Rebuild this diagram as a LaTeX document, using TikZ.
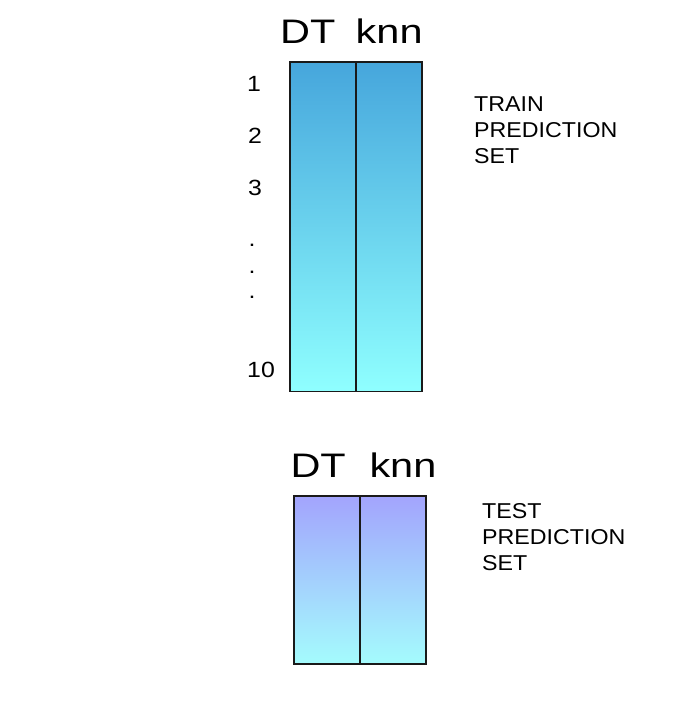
\documentclass[tikz,border=0pt]{standalone}
\usepackage{fontspec}
\setmainfont{Liberation Sans}[FakeStretch=1.13]
\newfontfamily\headfont{Liberation Sans}[FakeStretch=1.22]
\newfontfamily\setfont{Liberation Sans}[FakeStretch=1.08]
\usepackage{tikz}
\usetikzlibrary{positioning}
\definecolor{trtop}{RGB}{70,166,220}
\definecolor{trbot}{RGB}{143,255,255}
\definecolor{tetop}{RGB}{163,164,253}
\definecolor{tebot}{RGB}{164,252,253}
\definecolor{edge}{RGB}{26,26,26}
\tikzstyle{trainbox} = [rectangle, anchor=north west, inner sep=0, outer sep=0, minimum width=66pt, minimum height=329.5pt, draw=edge, line width=1.4pt, top color=trtop, bottom color=trbot]
\tikzstyle{testbox} = [rectangle, anchor=north west, inner sep=0, outer sep=0, minimum width=66pt, minimum height=168pt, draw=edge, line width=1.4pt, top color=tetop, bottom color=tebot]
\tikzstyle{head} = [anchor=base west, inner sep=0, font=\headfont\fontsize{34}{40}\selectfont]
\tikzstyle{rowlbl} = [anchor=base west, inner sep=0, font=\fontsize{22}{26}\selectfont]
\tikzstyle{setlbl} = [anchor=north west, inner sep=0, align=left, font=\setfont\fontsize{21.5}{26}\selectfont]

\begin{document}
\begin{tikzpicture}[x=1pt,y=-1pt]
\useasboundingbox (0,0) rectangle (698,716);

% Train prediction set
\node[head] (trdthead) at (280,43) {DT};
\node[head] (trknnhead) at (355.5,43) {knn};
\node[trainbox] (trdt) at (290,62) {};
\node[trainbox] (trknn) at (356,62) {};
\node[setlbl] (trlbl) at (474,96.6) {TRAIN\\PREDICTION\\SET};

% Row numbers
\node[rowlbl] (r1) at (247,91) {1};
\node[rowlbl] (r2) at (248,143) {2};
\node[rowlbl] (r3) at (248,195) {3};
\foreach \y/\n in {246/a,273/b,298/c}
  \node[rowlbl] (dot\n) at (248.5,\y) {.};
\node[rowlbl] (r10) at (247,377) {10};

% Test prediction set
\node[head] (tedthead) at (290.3,477.5) {DT};
\node[head] (teknnhead) at (369.3,477.5) {knn};
\node[testbox] (tedt) at (294,496) {};
\node[testbox] (teknn) at (360,496) {};
\node[setlbl] (telbl) at (482,503.6) {TEST\\PREDICTION\\SET};
\end{tikzpicture}
\end{document}
